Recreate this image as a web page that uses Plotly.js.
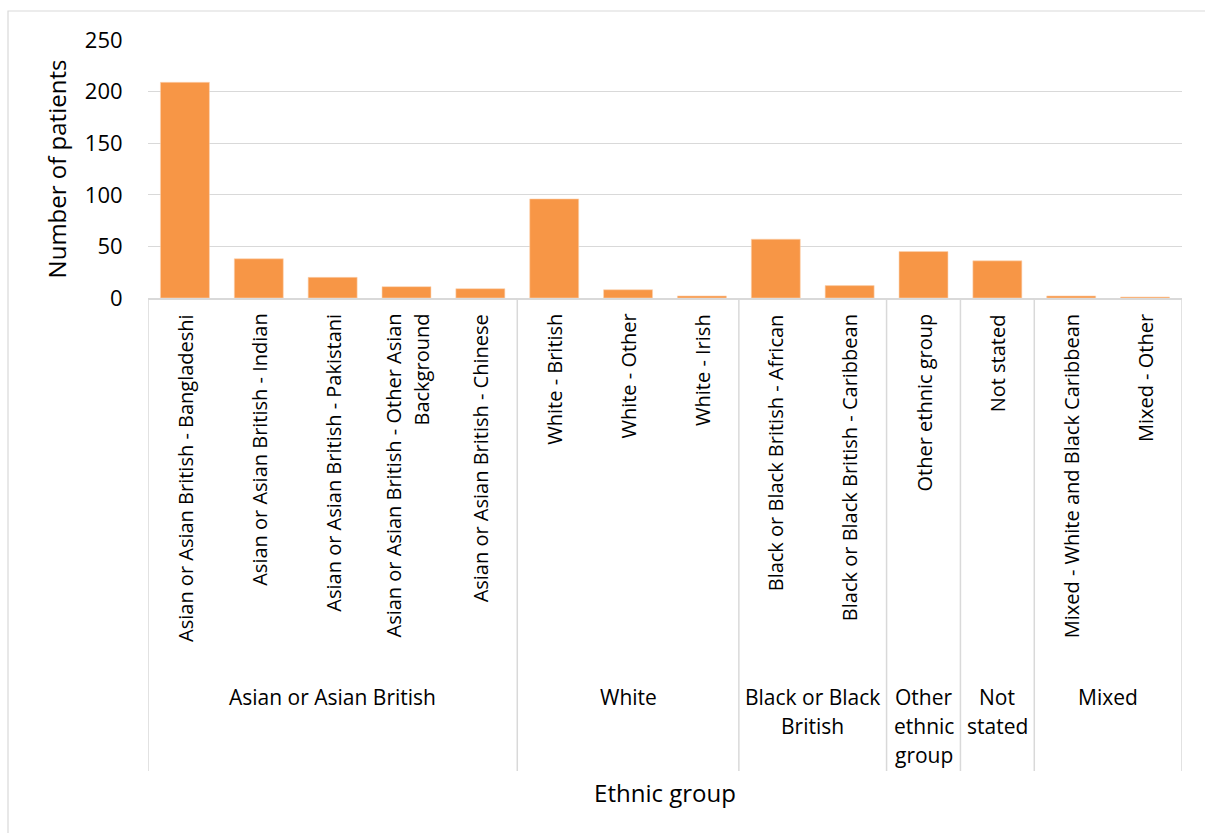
<!DOCTYPE html>
<html>
<head>
<meta charset="utf-8">
<script src="https://cdn.plot.ly/plotly-3.0.1.min.js"></script>
<style>html,body{margin:0;padding:0;background:#fff;}#chart{width:1205px;height:833px;}</style>
</head>
<body>
<div id="chart"></div>
<script>
// ---- data ----
const categories = [
  "Asian or Asian British - Bangladeshi",
  "Asian or Asian British - Indian",
  "Asian or Asian British - Pakistani",
  "Asian or Asian British - Other Asian<br>Background",
  "Asian or Asian British - Chinese",
  "White - British",
  "White - Other",
  "White - Irish",
  "Black or Black British - African",
  "Black or Black British - Caribbean",
  "Other ethnic group",
  "Not stated",
  "Mixed - White and Black Caribbean",
  "Mixed - Other"
];
const patients = [209, 38, 20, 11, 9, 96, 8, 2, 57, 12, 45, 36, 2, 1];
const groupNames = ["Asian or Asian British", "White", "Black or Black<br>British", "Other<br>ethnic<br>group", "Not<br>stated", "Mixed"];
const groupSizes = [5, 3, 2, 1, 1, 2];
const yTicks = [0, 50, 100, 150, 200, 250];

// ---- layout helpers ----
const FONT = "Open Sans, Noto Sans, sans-serif";
const TXT = "#000000";
const GRID = "#d9d9d9";
const plotTop = 40, plotBottom = 298, plotH = plotBottom - plotTop;
const plotLeft = 148, plotRight = 1182, plotW = plotRight - plotLeft;
const py = p => (plotBottom - p) / plotH;   // pixel y -> paper y
const px = p => (p - plotLeft) / plotW;     // pixel x -> paper x

const xIdx = categories.map((c, i) => i);

const annotations = [];
const shapes = [];

// category labels (rotated)
categories.forEach((c, i) => {
  const lines = c.split("<br>");
  const n = lines.length;
  lines.forEach((ln, k) => {
    annotations.push({
      x: i, xref: "x", y: py(312), yref: "paper",
      xanchor: "center", yanchor: "top",
      text: ln, textangle: -90, showarrow: false,
      xshift: (k - (n - 1) / 2) * 28,
      font: {family: FONT, size: 20, color: TXT}
    });
  });
});

// group labels + dividers
let start = 0;
const bounds = [-0.5];
groupNames.forEach((g, gi) => {
  const end = start + groupSizes[gi] - 1;
  const lines = g.split("<br>");
  lines.forEach((ln, k) => {
    annotations.push({
      x: (start + end) / 2, xref: "x", y: py(681 + k * 29), yref: "paper",
      xanchor: "center", yanchor: "top",
      text: ln, showarrow: false,
      font: {family: FONT, size: 21, color: TXT}
    });
  });
  start = end + 1;
  bounds.push(end + 0.5);
});
bounds.forEach(b => {
  shapes.push({
    type: "line", xref: "x", yref: "paper",
    x0: b, x1: b, y0: 0, y1: py(771),
    line: {color: GRID, width: 1.5}
  });
});

// chart area border
shapes.push({
  type: "rect", xref: "paper", yref: "paper",
  x0: px(8), x1: px(1215), y0: py(845), y1: py(11),
  line: {color: GRID, width: 1.2}, fillcolor: "rgba(0,0,0,0)", layer: "below"
});

const trace = {
  type: "bar",
  x: xIdx,
  y: patients,
  marker: {color: "#F79646", line: {color: "#fbd3b2", width: 0.6}},
  hoverinfo: "y"
};

const layout = {
  width: 1205, height: 833,
  margin: {l: plotLeft, r: 1205 - plotRight, t: plotTop, b: 833 - plotBottom, pad: 0},
  paper_bgcolor: "#ffffff", plot_bgcolor: "#ffffff",
  showlegend: false,
  bargap: 0.337,
  font: {family: FONT, size: 21, color: TXT},
  xaxis: {
    type: "linear", range: [-0.5, categories.length - 0.5],
    showticklabels: false, ticks: "", showgrid: false, zeroline: false,
    showline: true, linecolor: GRID, linewidth: 1.5,
    title: {text: "Ethnic group", font: {family: FONT, size: 24, color: TXT}, standoff: 486}
  },
  yaxis: {
    range: [0, 250], tickvals: yTicks, ticktext: yTicks.map(String),
    showgrid: true, gridcolor: GRID, gridwidth: 1.2, zeroline: false,
    showline: false, ticks: "outside", ticklen: 20, tickcolor: "rgba(0,0,0,0)",
    tickfont: {family: FONT, size: 22, color: TXT},
    title: {text: "Number of patients", font: {family: FONT, size: 24, color: TXT}, standoff: 11}
  },
  annotations: annotations,
  shapes: shapes
};

Plotly.newPlot("chart", [trace], layout, {displayModeBar: false, staticPlot: true});
</script>
</body>
</html>
